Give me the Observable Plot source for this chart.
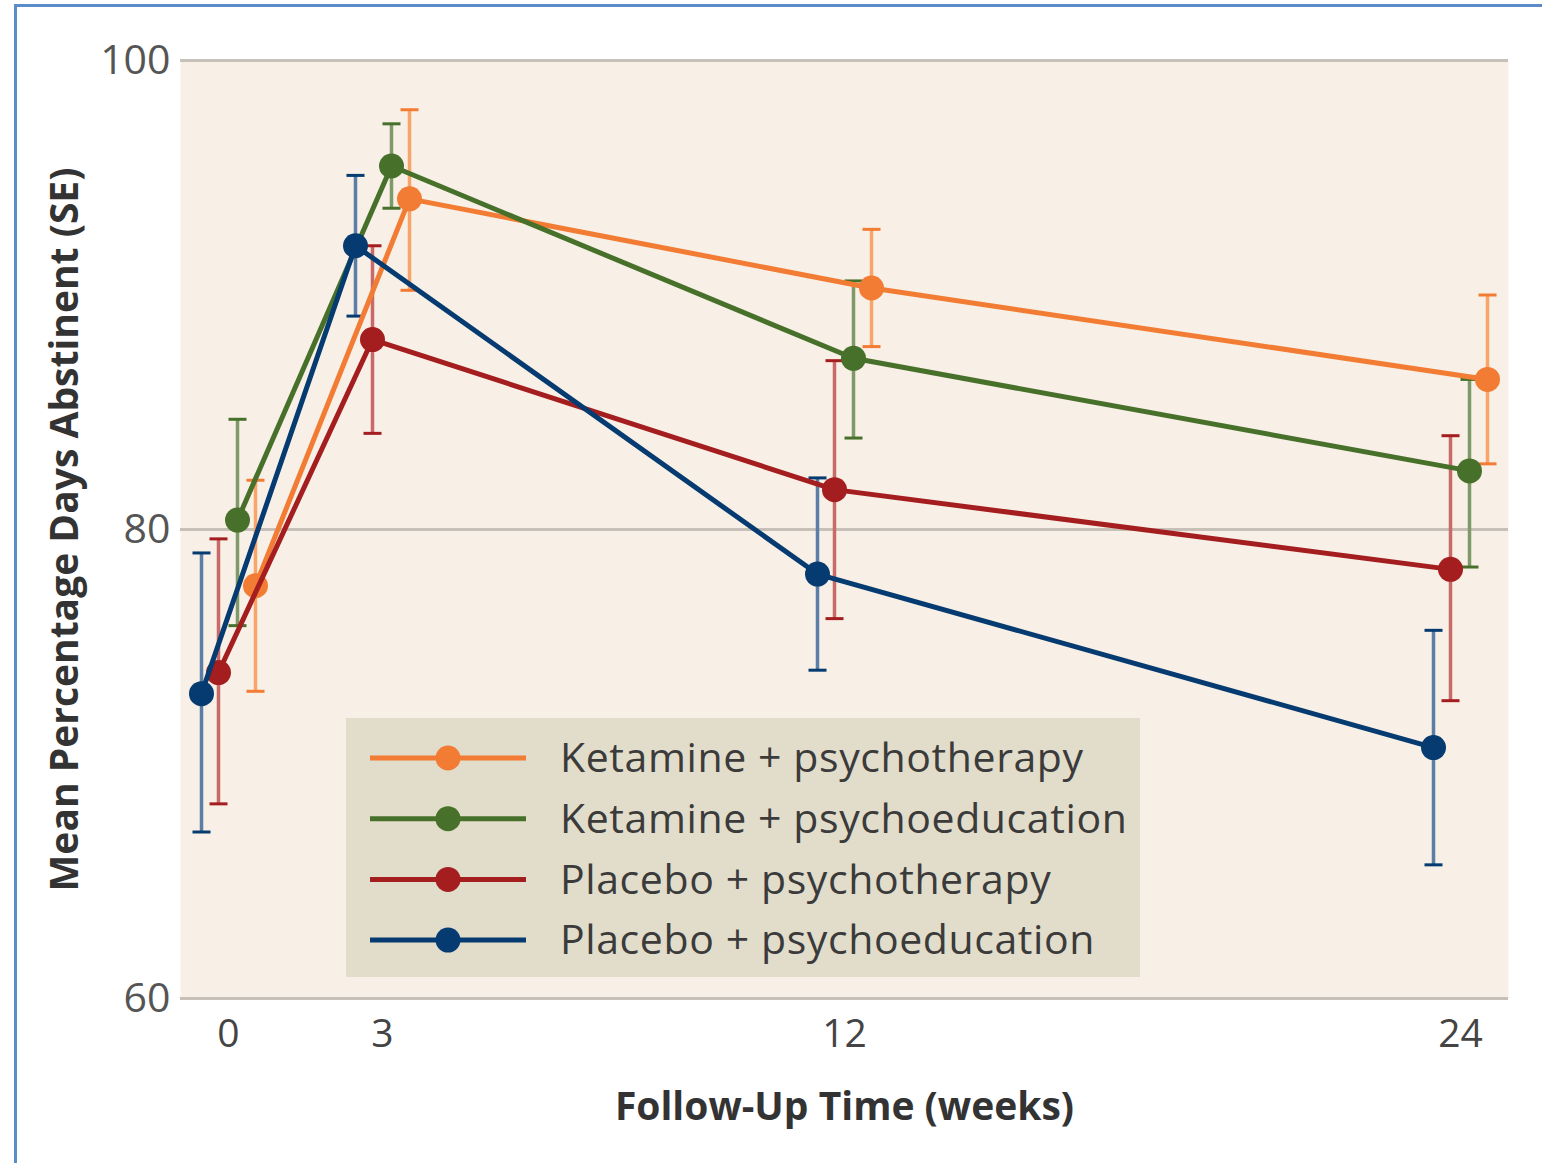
<!DOCTYPE html>
<html>
<head>
<meta charset="utf-8">
<script src="https://cdn.jsdelivr.net/npm/d3@7"></script>
<script src="https://cdn.jsdelivr.net/npm/@observablehq/plot@0.6"></script>
<style>
  html, body { margin: 0; padding: 0; background: #fff; overflow: hidden; }
  #wrap { position: relative; width: 1542px; height: 1163px; }
  #border { position: absolute; left: 14px; top: 4px; width: 1600px; height: 1300px;
            border-left: 3px solid #5b8cc9; border-top: 3px solid #5b8cc9; pointer-events: none; }
  #legend { position: absolute; left: 346px; top: 718px; width: 794px; height: 259px; background: #e2ddca; }
</style>
</head>
<body>
<div id="wrap"><div id="chart"></div><div id="legend"></div><div id="border"></div></div>
<script>
// ---- data ----
const weeks = [0, 3, 12, 24];
const seriesNames = ["Ketamine + psychotherapy", "Ketamine + psychoeducation", "Placebo + psychotherapy", "Placebo + psychoeducation"];
const ketPsyMean = [77.6, 94.1, 90.3, 86.4];
const ketPsyLow  = [73.1, 90.2, 87.8, 82.8];
const ketPsyHigh = [82.1, 97.9, 92.8, 90.0];
const ketEduMean = [80.4, 95.5, 87.3, 82.5];
const ketEduLow  = [75.9, 93.7, 83.9, 78.4];
const ketEduHigh = [84.7, 97.3, 90.6, 86.4];
const plaPsyMean = [73.9, 88.1, 81.7, 78.3];
const plaPsyLow  = [68.3, 84.1, 76.2, 72.7];
const plaPsyHigh = [79.6, 92.1, 87.2, 84.0];
const plaEduMean = [73.0, 92.1, 78.1, 70.7];
const plaEduLow  = [67.1, 89.1, 74.0, 65.7];
const plaEduHigh = [79.0, 95.1, 82.2, 75.7];
const yTicks = [60, 80, 100];

// ---- styles ----
const colors = ["#f27c33", "#47702a", "#a41e1f", "#053b70"];
const barColors = ["#f9a56a", "#7e9a68", "#c86b68", "#5a7ea6"];
const dodge = [27, 9, -10, -27];

const means = [ketPsyMean, ketEduMean, plaPsyMean, plaEduMean];
const lows = [ketPsyLow, ketEduLow, plaPsyLow, plaEduLow];
const highs = [ketPsyHigh, ketEduHigh, plaPsyHigh, plaEduHigh];

const tables = seriesNames.map((name, s) => weeks.map((w, i) => ({
  series: name, week: w, mean: means[s][i], low: lows[s][i], high: highs[s][i]
})));

const capSymbol = {
  draw(context, size) {
    const r = Math.sqrt(size / Math.PI);
    context.moveTo(-r, 0);
    context.lineTo(r, 0);
  }
};

const order = [0, 1, 2, 3];
const marks = [
  Plot.frame({fill: "#f8efe6", stroke: null}),
  Plot.ruleY(yTicks, {stroke: "#c6c0b8", strokeWidth: 3})
];
for (const s of order) {
  const d = tables[s];
  marks.push(Plot.ruleX(d, {x: "week", y1: "low", y2: "high", dx: dodge[s], stroke: barColors[s], strokeWidth: 3.5}));
  marks.push(Plot.dot(d, {x: "week", y: "low", dx: dodge[s], symbol: capSymbol, r: 9, stroke: colors[s], strokeWidth: 3, fill: "none"}));
  marks.push(Plot.dot(d, {x: "week", y: "high", dx: dodge[s], symbol: capSymbol, r: 9, stroke: colors[s], strokeWidth: 3, fill: "none"}));
}
for (const s of order) {
  const d = tables[s];
  marks.push(Plot.line(d, {x: "week", y: "mean", dx: dodge[s], stroke: colors[s], strokeWidth: 5}));
  marks.push(Plot.dot(d, {x: "week", y: "mean", dx: dodge[s], fill: colors[s], r: 12.5, stroke: "none"}));
}
marks.push(Plot.axisY({ticks: yTicks, tickSize: 0, tickPadding: 10, fontSize: 41, color: "#555", label: null}));
marks.push(Plot.axisX({ticks: weeks, tickSize: 0, tickPadding: 21, fontSize: 39, color: "#444", label: null}));
marks.push(Plot.text(["Mean Percentage Days Abstinent (SE)"], {frameAnchor: "left", textAnchor: "middle", lineAnchor: "middle", rotate: -90, dx: -115, fontWeight: "bold", fontSize: 39, letterSpacing: "1.2px", fill: "#333"}));
marks.push(Plot.text(["Follow-Up Time (weeks)"], {frameAnchor: "bottom", textAnchor: "middle", lineAnchor: "middle", dy: 109, fontWeight: "bold", fontSize: 39, letterSpacing: "1.2px", fill: "#333"}));

const chart = Plot.plot({
  width: 1542, height: 1163,
  marginLeft: 180, marginRight: 34, marginTop: 60, marginBottom: 165,
  x: {domain: [-0.935, 24.935], axis: null},
  y: {domain: [60, 100], axis: null},
  style: {fontFamily: "'Open Sans', sans-serif", background: "transparent", overflow: "visible"},
  marks
});
document.getElementById("chart").appendChild(chart);

// ---- legend ----
const leg = d3.select("#legend").append("svg").attr("width", 794).attr("height", 259)
  .style("font-family", "'Open Sans', sans-serif");
seriesNames.forEach((name, i) => {
  const cy = 40 + i * 60.7;
  const g = leg.append("g").attr("transform", `translate(0,${cy})`);
  g.append("line").attr("x1", 24).attr("x2", 180).attr("y1", 0).attr("y2", 0)
    .attr("stroke", colors[i]).attr("stroke-width", 5);
  g.append("circle").attr("cx", 102).attr("cy", 0).attr("r", 12.5).attr("fill", colors[i]);
  g.append("text").attr("x", 214).attr("y", 0).attr("dy", "0.35em")
    .attr("font-size", 41).attr("letter-spacing", "0.6px").attr("fill", "#3b3b3b").text(name);
});
</script>
</body>
</html>
